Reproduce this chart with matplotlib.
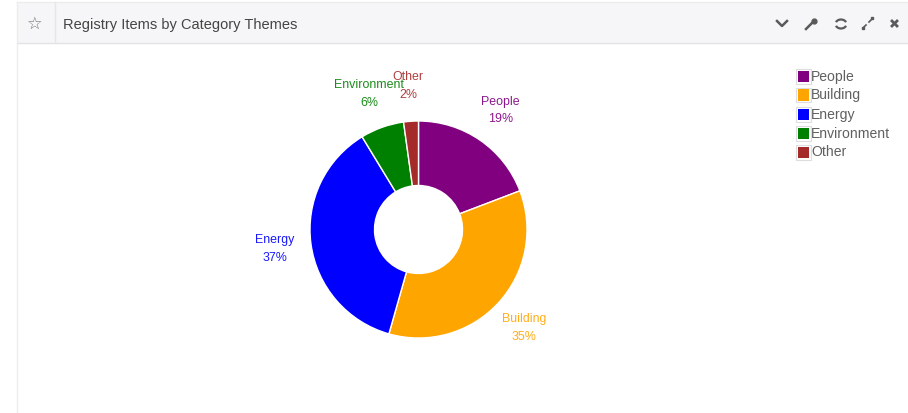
import matplotlib
matplotlib.use("Agg")
from matplotlib import pyplot as plt
from matplotlib.patches import Rectangle, Arc

plt.rcParams['font.family'] = ['Liberation Sans', 'DejaVu Sans']

# data
categories = ["People", "Building", "Energy", "Environment", "Other"]
values = [19.2, 35.2, 36.9, 6.5, 2.2]
shown_pct = ["19%", "35%", "37%", "6%", "2%"]
colors = ["purple", "orange", "blue", "green", "brown"]
title = "Registry Items by Category Themes"

W, H = 908, 413
fig = plt.figure(figsize=(W / 100, H / 100), dpi=100)
ax = fig.add_axes([0, 0, 1, 1])
ax.set_xlim(0, W)
ax.set_ylim(0, H)
ax.axis("off")


# everything is placed in image pixels, y measured from the top
def Y(y):
    return H - y


# panel header
ax.add_patch(Rectangle((17, Y(43)), W - 17, 41, fc="#f6f6f8", ec="none"))
ax.plot([17, W], [Y(2), Y(2)], color="#ececec", lw=1)
ax.plot([17, W], [Y(43), Y(43)], color="#e2e2e6", lw=1)
ax.plot([17, 17], [Y(2), 0], color="#ececec", lw=1)
ax.plot([55, 55], [Y(2), Y(43)], color="#e6e6ea", lw=1)
ax.text(35, Y(24), "\u2606", family="DejaVu Sans", fontsize=12.5, color="#777777", ha="center", va="center")
ax.text(63, Y(25.5), title, fontsize=10.55, color="#444444", va="center")

# toolbar icons
ic = "#5a5a5a"
ax.plot([777, 782, 787], [Y(21), Y(26), Y(21)], color=ic, lw=1.8)
ax.plot([806, 813], [Y(29), Y(22)], color=ic, lw=1.8)
ax.plot([814], [Y(21)], marker="o", ms=3.5, color=ic)
ax.add_patch(Arc((841, Y(24)), 11, 9, theta1=20, theta2=160, color=ic, lw=1.6))
ax.add_patch(Arc((841, Y(24)), 11, 9, theta1=200, theta2=340, color=ic, lw=1.6))
ax.plot([863, 866], [Y(28), Y(25)], color=ic, lw=1.2)
ax.plot([869, 872], [Y(22), Y(19)], color=ic, lw=1.2)
ax.plot([863], [Y(28)], marker="s", ms=2, color=ic)
ax.plot([872], [Y(18)], marker="s", ms=2, color=ic)
ax.plot([892, 897], [Y(21), Y(26)], color=ic, lw=2)
ax.plot([892, 897], [Y(26), Y(21)], color=ic, lw=2)

# donut
cx, cy, r = 418.5, Y(229.5), 108.5
ax.pie(values, colors=colors, startangle=90, counterclock=False, center=(cx, cy), radius=r,
       frame=False, wedgeprops=dict(width=r - 44, edgecolor="white", linewidth=1))
ax.set_xlim(0, W)
ax.set_ylim(0, H)
ax.set_aspect("equal")
ax.axis("off")

# slice labels
label_xy = [(500, 101.5), (524, 319), (275, 240), (369, 84.5), (407.5, 76.5)]
pct_xy = [(501, 119.5), (524, 337), (275, 258), (369, 103), (408, 94.5)]
for i, name in enumerate(categories):
    ax.text(label_xy[i][0], Y(label_xy[i][1]), name, color=colors[i], fontsize=8.9, ha="center", va="center", alpha=0.9)
    ax.text(pct_xy[i][0], Y(pct_xy[i][1]), shown_pct[i], color=colors[i], fontsize=8.9, ha="center", va="center", alpha=0.9)

# legend
leg_y = [76, 94.5, 114, 133, 152]
for i, name in enumerate(categories):
    ax.add_patch(Rectangle((796, Y(leg_y[i] + 7.5)), 14.5, 14.5, fc="white", ec="#dddddd", lw=0.8))
    ax.add_patch(Rectangle((797.5, Y(leg_y[i] + 6)), 11.5, 11.5, fc=colors[i], ec="none"))
    ax.text(811, Y(leg_y[i] + 0.5), name, color="#606060", fontsize=10.1, va="center")

fig.savefig("out.png", dpi=100)
